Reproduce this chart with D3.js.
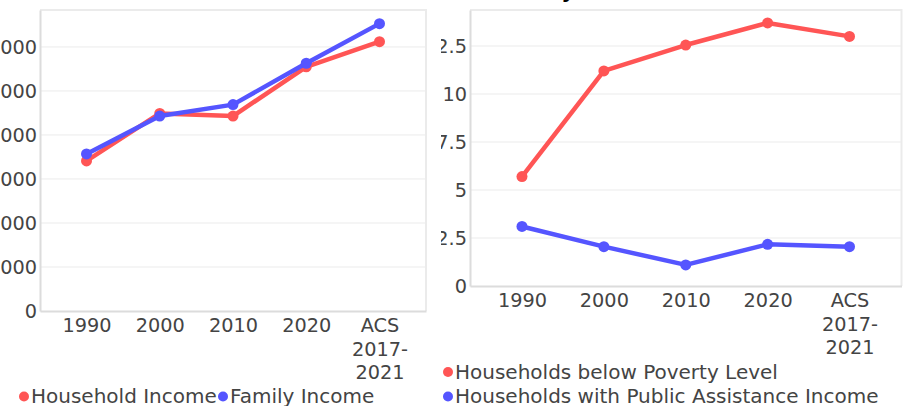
<!DOCTYPE html>
<html>
<head>
<meta charset="utf-8">
<script src="https://cdn.jsdelivr.net/npm/d3@7"></script>
<style>
  body { margin: 0; background: #fff; overflow: hidden; }
  #wrap { position: relative; width: 911px; height: 406px; }
  svg { position: absolute; top: 0; font-family: "DejaVu Sans", sans-serif; }
  svg text { font-family: "DejaVu Sans", sans-serif; }
  .tick text { fill: #444; font-size: 19.3px; }
</style>
</head>
<body>
<div id="wrap"></div>
<script>
// categories
const years = ['1990', '2000', '2010', '2020', 'ACS 2017-2021'];

// median income (left chart)
const householdIncome = [34100, 44900, 44300, 55500, 61200];
const familyIncome = [35700, 44300, 46900, 56300, 65300];
const incomeTicks = [0, 10000, 20000, 30000, 40000, 50000, 60000];

// poverty, percent (right chart)
const povertyLevel = [5.7, 11.2, 12.55, 13.7, 13.0];
const publicAssistance = [3.1, 2.05, 1.1, 2.17, 2.05];
const pctTicks = [0, 2.5, 5, 7.5, 10, 12.5];

const red = '#ff5555';
const blue = '#5555ff';

function lineChart(o) {
    var svg = d3.select('#wrap')
        .append('svg')
        .attr('width', o.w)
        .attr('height', 406)
        .style('left', o.left + 'px');

    var xScale = d3.scalePoint()
        .domain(years)
        .range([o.x0, o.x1])
        .padding(0.635);

    var yScale = d3.scaleLinear()
        .domain([0, o.ymax])
        .range([o.y1, o.y0]);

    // grid
    svg.append('g')
        .selectAll('line')
        .data(o.ticks.slice(1))
        .enter()
        .append('line')
        .attr('x1', o.x0).attr('x2', o.x1)
        .attr('y1', function(d) { return yScale(d); })
        .attr('y2', function(d) { return yScale(d); })
        .attr('stroke', '#ebebeb')
        .attr('stroke-width', 1);

    // frame top / right
    svg.append('path')
        .attr('d', 'M' + o.x0 + ',' + o.y0 + 'H' + o.x1 + 'V' + o.y1)
        .attr('fill', 'none')
        .attr('stroke', '#ebebeb')
        .attr('stroke-width', 2);

    var yAxis = d3.axisLeft(yScale)
        .tickValues(o.ticks)
        .tickSize(0)
        .tickPadding(3)
        .tickFormat(function(d) { return String(d); });

    var gy = svg.append('g')
        .attr('transform', 'translate(' + o.x0 + ',0)')
        .call(yAxis);
    gy.select('.domain').attr('stroke', '#dcdcdc').attr('stroke-width', 2);
    gy.selectAll('.tick text').attr('dy', '0.36em');

    var xAxis = d3.axisBottom(xScale).tickSize(0).tickFormat('');
    var gx = svg.append('g')
        .attr('transform', 'translate(0,' + o.y1 + ')')
        .call(xAxis);
    gx.select('.domain').attr('stroke', '#dcdcdc').attr('stroke-width', 2);

    gx.selectAll('.tick').each(function(d) {
        var lines = d.indexOf('ACS') === 0 ? ['ACS', '2017-', '2021'] : [d];
        var t = d3.select(this).append('text')
            .attr('text-anchor', 'middle')
            .attr('y', 21);
        lines.forEach(function(s, i) {
            t.append('tspan').attr('x', 0).attr('dy', i === 0 ? 0 : 23.5).text(s);
        });
    });

    var line = d3.line()
        .x(function(d, i) { return xScale(years[i]); })
        .y(function(d) { return yScale(d); });

    o.series.forEach(function(s) {
        svg.append('path')
            .datum(s.values)
            .attr('d', line)
            .attr('fill', 'none')
            .attr('stroke', s.color)
            .attr('stroke-width', 4.5)
            .attr('stroke-linejoin', 'round');
        svg.append('g')
            .selectAll('circle')
            .data(s.values)
            .enter()
            .append('circle')
            .attr('cx', function(d, i) { return xScale(years[i]); })
            .attr('cy', function(d) { return yScale(d); })
            .attr('r', 5.5)
            .attr('fill', s.color);
    });

    // legend
    o.series.forEach(function(s, i) {
        var p = o.legend[i];
        svg.append('circle')
            .attr('cx', p[0]).attr('cy', p[1])
            .attr('r', 5)
            .attr('fill', s.color);
        svg.append('text')
            .attr('x', p[0] + 7).attr('y', p[1] + 6.8)
            .attr('fill', '#444')
            .style('font-size', '20px')
            .text(s.name);
    });

    if (o.title) {
        svg.append('text')
            .attr('x', o.title[1]).attr('y', o.title[2])
            .attr('fill', '#000')
            .style('font-size', '20px')
            .style('font-weight', 'bold')
            .text(o.title[0]);
    }
    return svg;
}

lineChart({
    left: 0, w: 441,
    x0: 40, x1: 426, y0: 10, y1: 311,
    ymax: 68400, ticks: incomeTicks,
    series: [
        {name: 'Household Income', values: householdIncome, color: red},
        {name: 'Family Income', values: familyIncome, color: blue}
    ],
    legend: [[24, 396.5], [223, 396.5]]
});

lineChart({
    left: 441, w: 470,
    x0: 29, x1: 460.5, y0: 10, y1: 286,
    ymax: 14.375, ticks: pctTicks,
    series: [
        {name: 'Households below Poverty Level', values: povertyLevel, color: red},
        {name: 'Households with Public Assistance Income', values: publicAssistance, color: blue}
    ],
    legend: [[7, 372], [7, 396.5]],
    title: ['Poverty', 46, -2.5]
});
</script>
</body>
</html>
